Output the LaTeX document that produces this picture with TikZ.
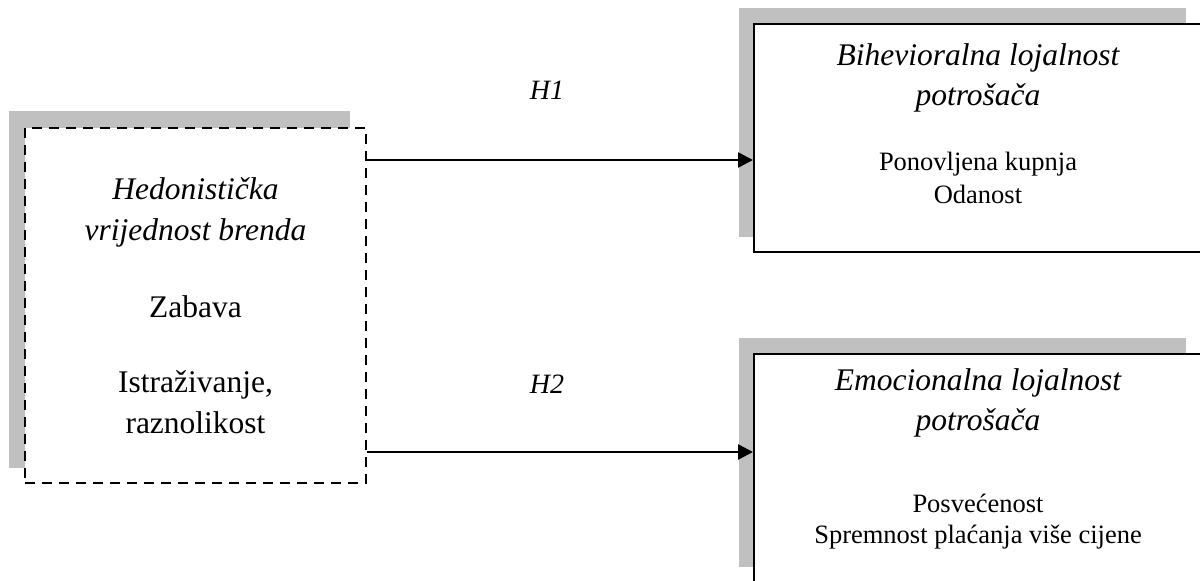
\documentclass[tikz,border=0pt]{standalone}
\usepackage{fontspec}
\setmainfont{Liberation Serif}
\usetikzlibrary{arrows.meta,calc}
\definecolor{shadowgray}{HTML}{C0C0C0}
\tikzset{
  solidbox/.style={draw=black,fill=white,line width=2pt,rectangle,inner sep=0pt},
  dashbox/.style={draw=black,fill=white,line width=2.6pt,rectangle,inner sep=0pt,dash pattern=on 10pt off 7pt},
  shadowfill/.style={fill=shadowgray,draw=none},
  bigtxt/.style={anchor=base,inner sep=0pt,font=\fontsize{31.5}{38}\selectfont},
  bigit/.style={bigtxt,font=\fontsize{31.5}{38}\selectfont\itshape},
  smalltxt/.style={anchor=base,inner sep=0pt,font=\fontsize{26.5}{32}\selectfont},
  hlabel/.style={anchor=base,inner sep=0pt,font=\fontsize{28}{34}\selectfont\itshape},
  link/.style={draw=black,line width=2.5pt,-{Triangle[length=15pt,width=15pt]}}
}
\begin{document}
\begin{tikzpicture}[x=1pt,y=1pt]
\useasboundingbox (0,0) rectangle (1200,-581);
\clip (0,0) rectangle (1200,-581);
% shadows
\fill[shadowgray] (9,-111) rectangle (350,-468);
\fill[shadowgray] (739,-8) rectangle (1186,-237);
\fill[shadowgray] (739,-338) rectangle (1186,-567);
% boxes
\node[dashbox,minimum width=341pt,minimum height=355pt] (hed) at (195.5,-305.5) {};
\node[solidbox,minimum width=448pt,minimum height=228pt] (beh) at (978,-138) {};
\node[solidbox,minimum width=448pt,minimum height=229pt] (emo) at (978,-468.5) {};
% left texts
\node[bigit] (t1) at (195.5,-199) {Hedonistička};
\node[bigit] (t2) at (195.5,-240) {vrijednost brenda};
\node[bigtxt] (t3) at (195.5,-317) {Zabava};
\node[bigtxt] (t4) at (195.5,-392) {Istraživanje,};
\node[bigtxt] (t5) at (195.5,-433) {raznolikost};
% top right texts
\node[bigit] (b1) at (978,-65) {Bihevioralna lojalnost};
\node[bigit] (b2) at (978,-105) {potrošača};
\node[smalltxt] (b3) at (978,-170) {Ponovljena kupnja};
\node[smalltxt] (b4) at (978,-203) {Odanost};
% bottom right texts
\node[bigit] (e1) at (978,-390) {Emocionalna lojalnost};
\node[bigit] (e2) at (978,-430) {potrošača};
\node[smalltxt] (e3) at (978,-512) {Posvećenost};
\node[smalltxt] (e4) at (978,-543) {Spremnost plaćanja više cijene};
% arrows
\coordinate (a1s) at (hed.east |- 0,-160);
\coordinate (a1e) at (beh.west |- 0,-160);
\coordinate (a2s) at (hed.east |- 0,-452);
\coordinate (a2e) at (emo.west |- 0,-452);
\draw[link] (a1s) -- (a1e);
\draw[link] (a2s) -- (a2e);
\node[hlabel] (h1) at (547,-99) {H1};
\node[hlabel] (h2) at (547,-393) {H2};
\end{tikzpicture}
\end{document}
